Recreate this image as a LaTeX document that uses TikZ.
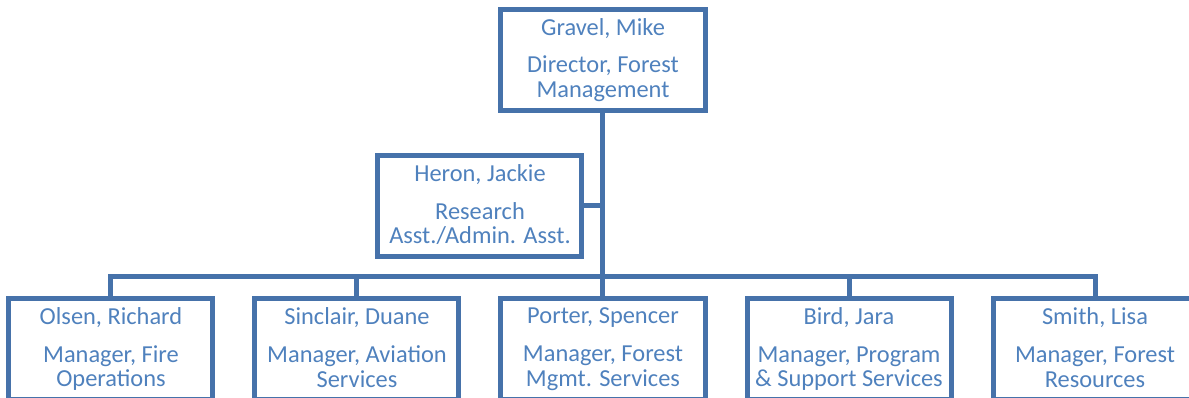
\documentclass[tikz,border=0pt]{standalone}
\usepackage{fontspec}
\setmainfont{Carlito}
\usetikzlibrary{trees}
\definecolor{boxline}{RGB}{70,114,170}
\definecolor{boxtext}{RGB}{79,129,189}
\tikzstyle{every node}=[draw=boxline,line width=2.5pt,text=boxtext,align=center,
  minimum width=102pt,minimum height=50.5pt,font=\fontsize{12.2}{12.4}\selectfont,
  execute at begin node={\rule{0pt}{11pt}},
  execute at end node={\rule[-1.4pt]{0pt}{0pt}}]
\tikzstyle{link}=[draw=boxline,line width=2.5pt]

\begin{document}
\begin{tikzpicture}[%
      level distance=144.5pt, sibling distance=123pt,
      edge from parent/.style={link},
      edge from parent path={(\tikzparentnode.south) -- ++(0,-81.5pt) -| (\tikzchildnode.north)}]
      \useasboundingbox (-301.5pt,-168.5pt) rectangle (293pt,30pt);
      \clip (-301.5pt,-168.5pt) rectangle (293pt,30pt);
      \node (gravel) {Gravel, Mike\\[6.5pt]Director, Forest\\Management}
          child { node (olsen) {Olsen, Richard\\[6.5pt]Manager, Fire\\Operations}}
          child { node (sinclair) {Sinclair, Duane\\[6.5pt]Manager, Aviation\\Services}}
          child { node (porter) {Porter, Spencer\\[6.5pt]Manager, Forest\\Mgmt. Services}}
          child { node (bird) {Bird, Jara\\[6.5pt]Manager, Program\\\& Support Services}}
          child { node (smith) {Smith, Lisa\\[6.5pt]Manager, Forest\\Resources}};
      % assistant hangs off the trunk
      \node (heron) at ([xshift=-61.5pt,yshift=-72.75pt]gravel.center)
          {Heron, Jackie\\[6.5pt]Research\\Asst./Admin. Asst.};
      \draw[link] (heron.east) -- (heron.east -| gravel.south);
    \end{tikzpicture}
\end{document}
